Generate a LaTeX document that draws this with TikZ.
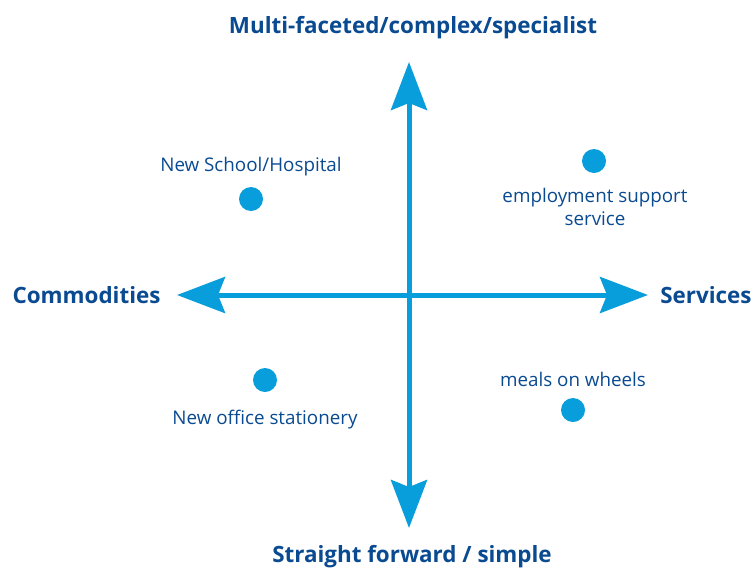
\documentclass[tikz,border=0pt]{standalone}
\usepackage{fontspec}
\setmainfont{Open Sans}
\definecolor{AxisBlue}{RGB}{8, 158, 219}
\definecolor{TextBlue}{RGB}{10, 74, 145}
\usetikzlibrary{arrows.meta, positioning}

\begin{document}
\begin{tikzpicture}[x=1pt, y=-1pt,
    axis/.style={line width=5pt, color=AxisBlue,
        {Stealth[length=48pt, width=36pt, inset=7pt]}-{Stealth[length=48pt, width=36pt, inset=7pt]}},
    title/.style={font=\bfseries\fontsize{22.4}{26}\selectfont, color=TextBlue},
    item/.style={font=\fontsize{18.8}{23}\selectfont, color=TextBlue, align=center},
    dot/.style={circle, fill=AxisBlue, inner sep=0pt, minimum size=24pt}]
    \useasboundingbox (0,0) rectangle (752,568);

    % Axis ends
    \coordinate (top) at (409, 62);
    \coordinate (bottom) at (409, 528);
    \coordinate (left) at (177, 295);
    \coordinate (right) at (648, 295);

    % Axes
    \draw[axis] (left) -- (right);
    \draw[axis] (top) -- (bottom);

    % Axis titles
    \node[title] (complex) at (413, 28) {Multi-faceted/complex/specialist};
    \node[title] (simple) at (412, 557) {Straight forward / simple};
    \node[title, anchor=west] (commodities) at (9, 295) {Commodities};
    \node[title, anchor=east] (services) at (755, 295) {Services};

    % Examples
    \node[dot] (school) at (251, 199) {};
    \node[item] (schoolLabel) at (251, 167) {New School/Hospital};
    \node[dot] (employment) at (594, 161) {};
    \node[item] (employmentLabel) at (595, 207) {employment support\\service};
    \node[dot] (stationery) at (265, 380) {};
    \node[item] (stationeryLabel) at (265, 420) {New office stationery};
    \node[dot] (meals) at (573, 410) {};
    \node[item] (mealsLabel) at (573, 379) {meals on wheels};
\end{tikzpicture}
\end{document}
